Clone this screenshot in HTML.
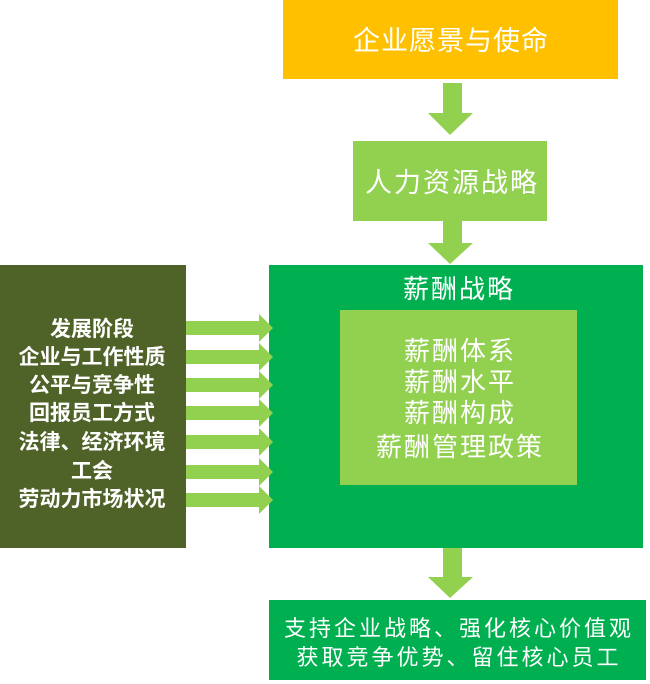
<!DOCTYPE html>
<html><head><meta charset="utf-8"><style>
html,body{margin:0;padding:0;background:#fff;width:650px;height:684px;overflow:hidden}
svg text{font-family:"Liberation Sans","Noto Sans CJK SC",sans-serif;fill:#fff}
</style></head><body>
<svg width="650" height="684" viewBox="0 0 650 684" xmlns="http://www.w3.org/2000/svg">
<rect x="283" y="0" width="335" height="79" fill="#FFC000"/>
<text x="451" y="50" font-size="27" text-anchor="middle" letter-spacing="1">企业愿景与使命</text>
<polygon points="443,83 462,83 462,113 473,113 450,135 428,113 443,113" fill="#92D050"/>
<rect x="353" y="141" width="194" height="80" fill="#92D050"/>
<text x="452" y="192" font-size="27" text-anchor="middle" letter-spacing="2">人力资源战略</text>
<polygon points="443,221 462,221 462,243 473,243 450,264 428,243 443,243" fill="#92D050"/>
<rect x="269" y="265" width="374" height="283" fill="#00B050"/>
<text x="459" y="298" font-size="26" text-anchor="middle" letter-spacing="2">薪酬战略</text>
<rect x="340" y="310" width="237" height="175" fill="#92D050"/>
<g font-size="26" text-anchor="middle" letter-spacing="2">
<text x="460" y="360">薪酬体系</text>
<text x="460" y="391">薪酬水平</text>
<text x="460" y="422">薪酬构成</text>
<text x="460" y="456">薪酬管理政策</text>
</g>
<rect x="0" y="265" width="186" height="283" fill="#4F6228"/>
<g font-size="21" font-weight="bold" text-anchor="middle">
<text x="92" y="336">发展阶段</text>
<text x="92" y="364">企业与工作性质</text>
<text x="92" y="392">公平与竞争性</text>
<text x="92" y="420">回报员工方式</text>
<text x="92" y="449">法律、经济环境</text>
<text x="92" y="478">工会</text>
<text x="92" y="506">劳动力市场状况</text>
</g>
<g fill="#92D050">
<polygon points="186,321 259,321 259,314 273,328 259,342 259,335 186,335"/>
<polygon points="186,350 259,350 259,343 273,357 259,371 259,364 186,364"/>
<polygon points="186,378 259,378 259,371 273,385 259,399 259,392 186,392"/>
<polygon points="186,406 259,406 259,399 273,413 259,427 259,420 186,420"/>
<polygon points="186,435 259,435 259,428 273,442 259,456 259,449 186,449"/>
<polygon points="186,465 259,465 259,458 273,472 259,486 259,479 186,479"/>
<polygon points="186,493 259,493 259,486 273,500 259,514 259,507 186,507"/>
</g>
<polygon points="443,548 462,548 462,577 473,577 450,598 428,577 443,577" fill="#92D050"/>
<rect x="269" y="600" width="377" height="80" fill="#00B050"/>
<g font-size="22" text-anchor="middle" letter-spacing="3">
<text x="459" y="636">支持企业战略、强化核心价值观</text>
<text x="459" y="665">获取竞争优势、留住核心员工</text>
</g>
</svg>
</body></html>
